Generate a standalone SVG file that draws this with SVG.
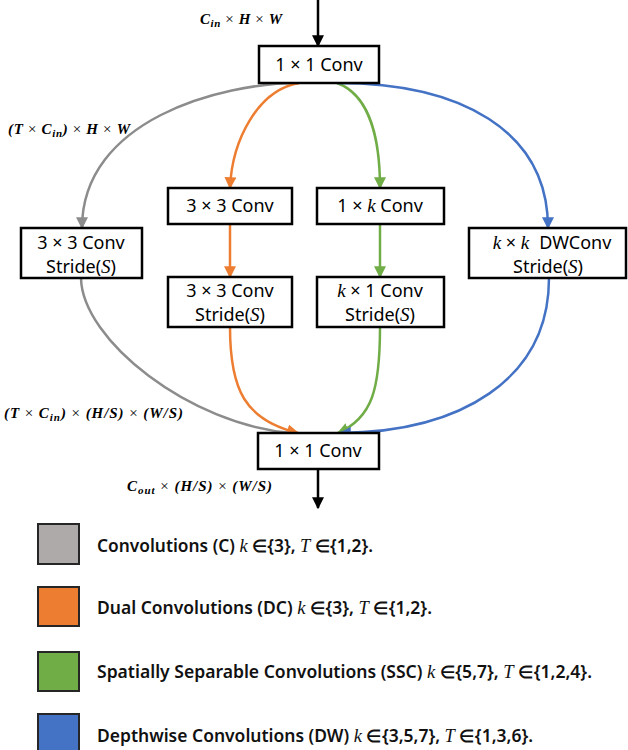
<svg xmlns="http://www.w3.org/2000/svg" width="628" height="750" viewBox="0 0 628 750">
<style>
.box{fill:#fff;stroke:#000;stroke-width:2.5}
.bt{font-family:"Noto Sans","Liberation Sans",sans-serif;font-size:18px;fill:#000;text-anchor:middle}
.mi{font-family:"Liberation Serif",serif;font-style:italic;font-size:19px}
.lab{font-family:"Liberation Serif",serif;font-size:15px;font-weight:bold;font-style:italic;fill:#000}
.op{font-weight:normal;font-style:normal}
.sub{font-size:11px}
.c{fill:none;stroke-width:2.5}
.gray{stroke:#8C8C8C}
.org{stroke:#ED7D31}
.grn{stroke:#70AD47}
.blu{stroke:#4472C4}
.blk{stroke:#000}
.leg{stroke:#262626;stroke-width:2}
.lt{font-family:"Noto Sans","Liberation Sans",sans-serif;font-size:17px;font-weight:600;fill:#111}
.lm{font-family:"Liberation Serif",serif;font-style:italic;font-weight:normal;font-size:18px}
</style>
<defs>
<marker id="aK" viewBox="0 0 10 10" refX="9" refY="5" markerWidth="12" markerHeight="12" markerUnits="userSpaceOnUse" orient="auto"><path d="M0,0 L10,5 L0,10 z" fill="#000"/></marker>
<marker id="aG" viewBox="0 0 10 10" refX="9" refY="5" markerWidth="12" markerHeight="12" markerUnits="userSpaceOnUse" orient="auto"><path d="M0,0 L10,5 L0,10 z" fill="#8C8C8C"/></marker>
<marker id="aO" viewBox="0 0 10 10" refX="9" refY="5" markerWidth="12" markerHeight="12" markerUnits="userSpaceOnUse" orient="auto"><path d="M0,0 L10,5 L0,10 z" fill="#ED7D31"/></marker>
<marker id="aN" viewBox="0 0 10 10" refX="9" refY="5" markerWidth="12" markerHeight="12" markerUnits="userSpaceOnUse" orient="auto"><path d="M0,0 L10,5 L0,10 z" fill="#70AD47"/></marker>
<marker id="aB" viewBox="0 0 10 10" refX="9" refY="5" markerWidth="12" markerHeight="12" markerUnits="userSpaceOnUse" orient="auto"><path d="M0,0 L10,5 L0,10 z" fill="#4472C4"/></marker>
</defs>

<g id="connectors">
<path class="c blk" d="M318,0 L318,46" marker-end="url(#aK)"/>
<path class="c gray" d="M299,83 C220,83 82,120 82,228" marker-end="url(#aG)"/>
<path class="c gray" d="M81,278 C82,340 190,425 292,433"/>
<path class="c org" d="M299,83 C258,90 232,140 230,188" marker-end="url(#aO)"/>
<path class="c org" d="M230,224 L230,277" marker-end="url(#aO)"/>
<path class="c org" d="M230,327 C230,390 245,420 298,433" marker-end="url(#aO)"/>
<path class="c grn" d="M337,83 C370,95 380,140 380,188" marker-end="url(#aN)"/>
<path class="c grn" d="M380,224 L380,277" marker-end="url(#aN)"/>
<path class="c grn" d="M380,327 C380,390 372,418 338,433" marker-end="url(#aN)"/>
<path class="c blu" d="M337,83 C460,83 548,130 548,228" marker-end="url(#aB)"/>
<path class="c blu" d="M549,278 C549,380 460,432 340,433" marker-end="url(#aB)"/>
<path class="c blk" d="M318,469 L318,508" marker-end="url(#aK)"/>
</g>

<g id="node-top">
<rect class="box" x="259" y="46" width="120" height="37"/>
<text class="bt" x="319" y="71">1 × 1 Conv</text>
</g>
<g id="node-c">
<rect class="box" x="21" y="228" width="121" height="50"/>
<text class="bt" x="81" y="249">3 × 3 Conv</text>
<text class="bt" x="81" y="273">Stride(<tspan class="mi">S</tspan>)</text>
</g>
<g id="node-dc1">
<rect class="box" x="168" y="188" width="124" height="36"/>
<text class="bt" x="230" y="212">3 × 3 Conv</text>
</g>
<g id="node-dc2">
<rect class="box" x="168" y="277" width="124" height="50"/>
<text class="bt" x="230" y="297">3 × 3 Conv</text>
<text class="bt" x="230" y="321">Stride(<tspan class="mi">S</tspan>)</text>
</g>
<g id="node-ssc1">
<rect class="box" x="317" y="188" width="127" height="36"/>
<text class="bt" x="380" y="212">1 × <tspan class="mi">k</tspan> Conv</text>
</g>
<g id="node-ssc2">
<rect class="box" x="317" y="277" width="127" height="50"/>
<text class="bt" x="380" y="297"><tspan class="mi">k</tspan> × 1 Conv</text>
<text class="bt" x="380" y="321">Stride(<tspan class="mi">S</tspan>)</text>
</g>
<g id="node-dw">
<rect class="box" x="469" y="228" width="157" height="50"/>
<text class="bt" x="552" y="249"><tspan class="mi">k</tspan> × <tspan class="mi">k</tspan><tspan dx="10">DWConv</tspan></text>
<text class="bt" x="548" y="273">Stride(<tspan class="mi">S</tspan>)</text>
</g>
<g id="node-bottom">
<rect class="box" x="258" y="433" width="121" height="36"/>
<text class="bt" x="318" y="457">1 × 1 Conv</text>
</g>

<g id="labels">
<text class="lab" x="200" y="24" textLength="82" lengthAdjust="spacing">C<tspan class="sub" dy="3">in</tspan><tspan dy="-3" class="op"> × </tspan>H<tspan class="op"> × </tspan>W</text>
<text class="lab" x="8" y="134" textLength="122" lengthAdjust="spacing">(T<tspan class="op"> × </tspan>C<tspan class="sub" dy="3">in</tspan><tspan dy="-3">)</tspan><tspan class="op"> × </tspan>H<tspan class="op"> × </tspan>W</text>
<text class="lab" x="4" y="418" textLength="179" lengthAdjust="spacing">(T<tspan class="op"> × </tspan>C<tspan class="sub" dy="3">in</tspan><tspan dy="-3">)</tspan><tspan class="op"> × </tspan>(H/S)<tspan class="op"> × </tspan>(W/S)</text>
<text class="lab" x="127" y="491" textLength="145" lengthAdjust="spacing">C<tspan class="sub" dy="3">out</tspan><tspan dy="-3" class="op"> × </tspan>(H/S)<tspan class="op"> × </tspan>(W/S)</text>
</g>

<g id="legend">
<rect class="leg" x="38" y="524" width="41" height="40" fill="#AEAAAA"/>
<text class="lt" x="97" y="552" textLength="276" lengthAdjust="spacingAndGlyphs">Convolutions (C) <tspan class="lm">k</tspan> ∈{3}, <tspan class="lm">T</tspan> ∈{1,2}.</text>
<rect class="leg" x="38" y="587" width="41" height="39" fill="#ED7D31"/>
<text class="lt" x="97" y="614" textLength="335" lengthAdjust="spacingAndGlyphs">Dual Convolutions (DC) <tspan class="lm">k</tspan> ∈{3}, <tspan class="lm">T</tspan> ∈{1,2}.</text>
<rect class="leg" x="38" y="652" width="41" height="39" fill="#70AD47"/>
<text class="lt" x="97" y="678" textLength="495" lengthAdjust="spacingAndGlyphs">Spatially Separable Convolutions (SSC) <tspan class="lm">k</tspan> ∈{5,7}, <tspan class="lm">T</tspan> ∈{1,2,4}.</text>
<rect class="leg" x="38" y="714" width="41" height="40" fill="#4472C4"/>
<text class="lt" x="97" y="742" textLength="436" lengthAdjust="spacingAndGlyphs">Depthwise Convolutions (DW) <tspan class="lm">k</tspan> ∈{3,5,7}, <tspan class="lm">T</tspan> ∈{1,3,6}.</text>
</g>
</svg>
